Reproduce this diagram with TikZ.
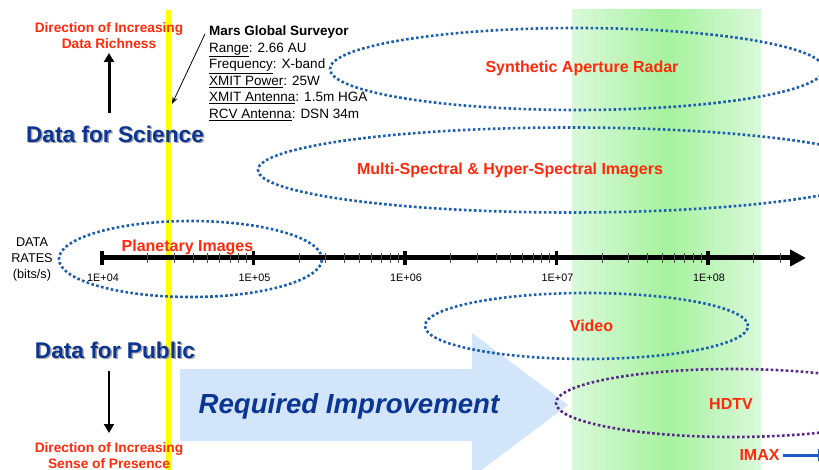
\documentclass[tikz,border=0pt]{standalone}
\usepackage{fontspec}
\setmainfont{Liberation Sans}
\usetikzlibrary{arrows.meta,shapes.geometric}
\definecolor{redtxt}{HTML}{FF2A0A}
\definecolor{navy}{HTML}{0B3592}
\definecolor{dotblue}{HTML}{1E5EB0}
\definecolor{dotpurple}{HTML}{58298A}
\definecolor{bigarrow}{HTML}{D2E5FB}
\definecolor{gLight}{HTML}{DAF9DA}
\definecolor{gDark}{HTML}{A6F29E}
\definecolor{imaxblue}{HTML}{1C5CC8}
\definecolor{ylw}{HTML}{FFFF00}
\newcommand\fsz[2]{\fontsize{#1}{#2}\selectfont}
\begin{document}
\begin{tikzpicture}[x=1pt,y=-1pt,
  redlab/.style={text=redtxt, font=\fsz{16}{19}\bfseries, inner sep=0pt},
  dirlab/.style={text=redtxt, font=\fsz{13.7}{16}\bfseries, align=center, inner sep=0pt},
  bigtitle/.style={text=navy, font=\fsz{22.7}{26}\bfseries, inner sep=0pt},
  shadowtitle/.style={text=black!35, font=\fsz{22.7}{26}\bfseries, inner sep=0pt},
  dotell/.style={ellipse, draw=dotblue, line width=2.6pt, dash pattern=on 2.6pt off 2.4pt, inner sep=0pt},
  ticklab/.style={font=\fsz{10.8}{12}, inner sep=0pt},
  majortick/.style={line width=3.5pt},
  minortick/.style={line width=0.9pt, black!70},
]
\clip (0,0) rectangle (819,470);
\fill[white] (0,0) rectangle (819,470);

% green band
\shade[left color=gLight, right color=gDark] (572,10) rectangle (667,470);
\shade[left color=gDark, right color=gLight] (667,10) rectangle (761,470);

% yellow line
\fill[ylw] (166,10) rectangle (171,470);

% big arrow
\fill[bigarrow] (180,369) -- (472,369) -- (472,333) -- (568,405) -- (472,477) -- (472,441) -- (180,441) -- cycle;
\node[text=navy, font=\fsz{27.6}{32}\bfseries\itshape, inner sep=0pt] (req) at (349,406) {Required Improvement};

% ellipses
\node[dotell, minimum width=494pt, minimum height=82pt] (sarE) at (577,69) {};
\node[dotell, minimum width=624pt, minimum height=85pt] (msE) at (570,170) {};
\node[dotell, minimum width=263pt, minimum height=76pt] (piE) at (190.5,259) {};
\node[dotell, minimum width=323pt, minimum height=66pt] (vidE) at (586.5,326) {};
\node[dotell, draw=dotpurple, minimum width=354pt, minimum height=68pt] (hdE) at (733,403) {};

% axis
\coordinate (ax0) at (102,258);
\coordinate (axend) at (806,258);
\draw[line width=5pt, -{Triangle[length=16pt,width=16pt]}] (ax0) -- (axend);
\foreach \d in {0,1,2,3}{
  \foreach \k in {2,...,9}{
    \pgfmathsetmacro\xx{102+151.5*\d+151.5*log10(\k)}
    \draw[minortick] (\xx,253) -- (\xx,263);
  }
}
\foreach \k in {2,3}{
  \pgfmathsetmacro\xx{102+151.5*4+151.5*log10(\k)}
  \draw[minortick] (\xx,253) -- (\xx,263);
}
\foreach \d/\lab in {0/04,1/05,2/06,3/07,4/08}{
  \pgfmathsetmacro\xx{102+151.5*\d}
  \draw[majortick] (\xx,251) -- (\xx,265);
  \node[ticklab] (tl\lab) at (\xx+1,278) {1E+\lab};
}
\node[font=\fsz{12.7}{16}, align=center, inner sep=0pt] (rates) at (32,259) {DATA\\RATES\\(bits/s)};

% labels
\node[redlab] (sarT) at (582,68) {Synthetic Aperture Radar};
\node[redlab] (msT) at (510,170) {Multi-Spectral \& Hyper-Spectral Imagers};
\node[redlab] (piT) at (187.5,247) {Planetary Images};
\node[redlab] (vidT) at (591.5,326) {Video};
\node[redlab] (hdT) at (731,404) {HDTV};
\node[redlab] (imT) at (759.5,455) {IMAX};
\coordinate (imEnd) at (828,455);
\draw[imaxblue, line width=3pt, -{Triangle[length=10pt,width=12pt]}] (imT.east) ++(3,0) -- (imEnd);

% left titles
\node[shadowtitle] at (116.5,135.5) {Data for Science};
\node[bigtitle] (sci) at (115,134) {Data for Science};
\node[shadowtitle] at (116.5,351.5) {Data for Public};
\node[bigtitle] (pub) at (115,350) {Data for Public};

\node[dirlab] (dirUp) at (109,36) {Direction of Increasing\\Data Richness};
\node[dirlab] (dirDn) at (109,456) {Direction of Increasing\\Sense of Presence};
\coordinate (upStart) at (109,113);
\coordinate (upTip) at (109,53);
\coordinate (dnStart) at (109,371);
\coordinate (dnTip) at (109,433);
\draw[line width=3pt, -{Triangle[length=9pt,width=10pt]}] (upStart) -- (upTip);
\draw[line width=2pt, -{Triangle[length=9pt,width=10pt]}] (dnStart) -- (dnTip);

% MGS
\node[anchor=north west, align=left, font=\fsz{13.5}{16.5}, inner sep=0pt] (mgs) at (209,26)
 {\textbf{Mars Global Surveyor}\\
  \underline{Range}: 2.66 AU\\
  \underline{Frequency}: X-band\\
  \underline{XMIT Power}: 25W\\
  \underline{XMIT Antenna}: 1.5m HGA\\
  \underline{RCV Antenna}: DSN 34m};
\coordinate (mgsTip) at (172,104);
\draw[line width=0.8pt, -{Stealth[length=7pt,width=5pt]}] (mgs.north west) ++(-4,8) -- (mgsTip);
\end{tikzpicture}
\end{document}
